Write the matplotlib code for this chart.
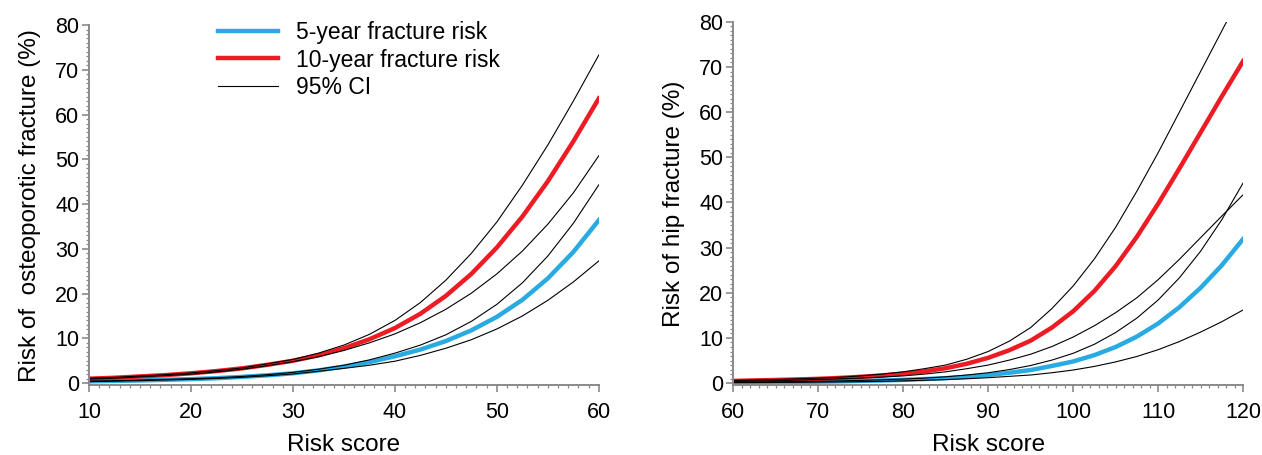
import matplotlib.pyplot as plt
from matplotlib.ticker import MultipleLocator

plt.rcParams['font.family'] = ['Liberation Sans', 'DejaVu Sans']

# Left panel: osteoporotic fracture risk vs risk score
score_op = [10, 12.5, 15, 17.5, 20, 22.5, 25, 27.5, 30, 32.5, 35, 37.5, 40,
            42.5, 45, 47.5, 50, 52.5, 55, 57.5, 60]
op10 = [1.0, 1.2, 1.5, 1.8, 2.2, 2.7, 3.3, 4.1, 5.0, 6.2, 7.8, 9.8, 12.3,
        15.5, 19.5, 24.4, 30.3, 37.2, 45.1, 54.0, 63.6]
op10_hi = [1.1, 1.3, 1.6, 1.9, 2.3, 2.8, 3.4, 4.3, 5.3, 6.7, 8.5, 10.9, 14.0,
           18.0, 23.0, 29.0, 36.0, 44.2, 53.2, 63.0, 73.3]
op10_lo = [0.9, 1.1, 1.4, 1.7, 2.0, 2.5, 3.1, 3.9, 4.8, 5.9, 7.3, 9.0, 11.0,
           13.5, 16.5, 20.1, 24.4, 29.5, 35.5, 42.5, 50.8]
op5 = [0.4, 0.5, 0.6, 0.75, 0.9, 1.1, 1.4, 1.75, 2.2, 2.85, 3.7, 4.7, 6.0,
       7.5, 9.4, 11.8, 14.8, 18.6, 23.4, 29.3, 36.4]
op5_hi = [0.45, 0.55, 0.7, 0.85, 1.0, 1.2, 1.5, 1.9, 2.4, 3.1, 4.0, 5.2, 6.7,
          8.5, 10.8, 13.8, 17.6, 22.4, 28.4, 35.7, 44.3]
op5_lo = [0.35, 0.45, 0.55, 0.7, 0.85, 1.05, 1.3, 1.65, 2.05, 2.65, 3.3, 4.0, 4.9,
          6.2, 7.8, 9.7, 12.1, 15.0, 18.5, 22.6, 27.3]

# Right panel: hip fracture risk vs risk score
score_hip = [60, 62.5, 65, 67.5, 70, 72.5, 75, 77.5, 80, 82.5, 85, 87.5, 90,
             92.5, 95, 97.5, 100, 102.5, 105, 107.5, 110, 112.5, 115, 117.5, 120]
hip10 = [0.5, 0.6, 0.7, 0.82, 0.95, 1.15, 1.4, 1.7, 2.1, 2.6, 3.3, 4.3, 5.6,
         7.3, 9.4, 12.3, 15.9, 20.4, 25.9, 32.4, 39.7, 47.5, 55.5, 63.5, 71.3]
hip10_hi = [0.6, 0.7, 0.8, 0.95, 1.1, 1.3, 1.6, 2.0, 2.5, 3.2, 4.0, 5.3, 7.0,
            9.3, 12.3, 16.5, 21.5, 27.5, 34.5, 42.5, 51.0, 60.0, 69.0, 78.0, 87.0]
hip10_lo = [0.4, 0.47, 0.55, 0.67, 0.8, 0.95, 1.1, 1.33, 1.6, 2.0, 2.5, 3.2, 4.0,
            5.1, 6.4, 8.1, 10.2, 12.7, 15.6, 18.9, 22.9, 27.4, 32.2, 37.0, 41.7]
hip5 = [0.15, 0.18, 0.22, 0.27, 0.32, 0.39, 0.48, 0.59, 0.72, 0.9, 1.1, 1.4, 1.8,
        2.3, 2.9, 3.8, 4.8, 6.2, 8.0, 10.3, 13.2, 16.8, 21.1, 26.1, 31.9]
hip5_hi = [0.2, 0.24, 0.28, 0.34, 0.4, 0.49, 0.6, 0.74, 0.9, 1.1, 1.4, 1.8, 2.3,
           3.0, 3.9, 5.1, 6.6, 8.6, 11.2, 14.4, 18.4, 23.3, 29.2, 36.2, 44.3]
hip5_lo = [0.1, 0.12, 0.15, 0.18, 0.22, 0.27, 0.33, 0.41, 0.5, 0.63, 0.78, 0.97, 1.2,
           1.5, 1.8, 2.3, 2.9, 3.7, 4.7, 5.9, 7.4, 9.2, 11.3, 13.6, 16.2]

BLUE = '#29abe2'
RED = '#ed1c24'
GREY = '#8a8a8a'
TICK_FONT = ['Liberation Sans Narrow', 'Liberation Sans', 'DejaVu Sans']

fig = plt.figure(figsize=(12.62, 4.55), dpi=100)
ax1 = fig.add_axes([0.0705, 0.153, 0.404, 0.792])
ax2 = fig.add_axes([0.581, 0.153, 0.404, 0.799])


def draw(ax, x, r10, r10_hi, r10_lo, r5, r5_hi, r5_lo):
    ax.plot(x, r5, color=BLUE, lw=3.2, label='5-year fracture risk')
    ax.plot(x, r10, color=RED, lw=3.2, label='10-year fracture risk')
    ax.plot(x, r10_hi, color='black', lw=0.8, label='95% CI')
    for ci in (r10_lo, r5_hi, r5_lo):
        ax.plot(x, ci, color='black', lw=0.8)
    ax.set_ylim(-0.5, 80)
    ax.yaxis.set_major_locator(MultipleLocator(10))
    ax.yaxis.set_minor_locator(MultipleLocator(1))
    ax.xaxis.set_major_locator(MultipleLocator(10))
    ax.xaxis.set_minor_locator(MultipleLocator(1))
    for side in ('top', 'right'):
        ax.spines[side].set_visible(False)
    for side in ('left', 'bottom'):
        ax.spines[side].set_color(GREY)
        ax.spines[side].set_linewidth(1.4)
    ax.tick_params(which='major', direction='out', length=5, width=1.2,
                   color=GREY, labelsize=15.5, labelcolor='black',
                   labelfontfamily=TICK_FONT)
    ax.tick_params(which='minor', direction='out', length=2.5, width=0.9, color=GREY)
    ax.tick_params(axis='x', which='major', pad=7)
    ax.tick_params(axis='y', which='major', pad=2)
    ax.set_xlabel('Risk score', fontsize=17.5, labelpad=8)


draw(ax1, score_op, op10, op10_hi, op10_lo, op5, op5_hi, op5_lo)
ax1.set_xlim(10, 60)
ax1.set_ylabel('Risk of  osteoporotic fracture (%)', fontsize=17.5, labelpad=10)

draw(ax2, score_hip, hip10, hip10_hi, hip10_lo, hip5, hip5_hi, hip5_lo)
ax2.set_xlim(60, 120)
ax2.set_ylabel('Risk of hip fracture (%)', fontsize=17.5, labelpad=10)

ax1.legend(loc='upper left', bbox_to_anchor=(0.1727, 0.953), bbox_transform=fig.transFigure,
           frameon=False, fontsize=16.5, handlelength=2.6, handletextpad=0.8,
           labelspacing=0.18, borderpad=0, borderaxespad=0)

plt.savefig('out.png', dpi=100)
